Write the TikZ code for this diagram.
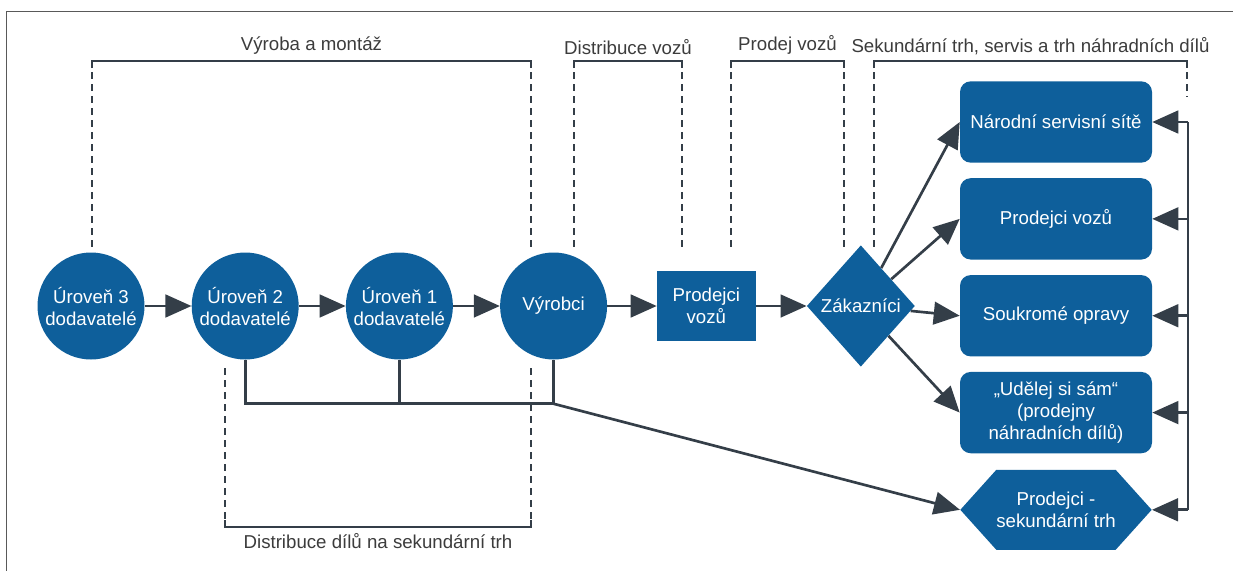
\documentclass[tikz,border=0pt]{standalone}
\usepackage{fontspec}
\setmainfont{Liberation Sans}
\usetikzlibrary{arrows.meta,positioning,shapes.geometric,shapes.symbols}

\definecolor{boxblue}{RGB}{14,95,155}
\definecolor{wire}{RGB}{52,62,72}
\definecolor{caption}{RGB}{60,60,60}

\begin{document}
\begin{tikzpicture}[
  x=0.75pt,y=-0.75pt,
  node distance=35pt and 35pt,
  every node/.style={font=\fontsize{14}{16.5}\selectfont},
  tier/.style={circle,fill=boxblue,text=white,minimum size=80.25pt,inner sep=0pt,align=center},
  dealer/.style={rectangle,fill=boxblue,text=white,minimum width=74pt,minimum height=52.5pt,align=center},
  buyer/.style={diamond,fill=boxblue,text=white,aspect=0.89,inner sep=1pt,minimum width=81pt,minimum height=91pt},
  outlet/.style={rectangle,rounded corners=8pt,fill=boxblue,text=white,minimum width=144pt,minimum height=61pt,align=center},
  partsshop/.style={signal,signal to=west and east,signal pointer angle=96,fill=boxblue,text=white,minimum width=142.5pt,minimum height=60pt,inner xsep=0pt,align=center},
  flow/.style={draw=wire,line width=2pt,-{Triangle[length=19.5pt,width=17pt]}},
  link/.style={draw=wire,line width=2pt},
  bracket/.style={draw=wire,line width=1.8pt},
  gap/.style={bracket,dash pattern=on 5.25pt off 3.75pt},
  phase/.style={text=caption,inner sep=0pt}
]
  \useasboundingbox (0,0) rectangle (1233,571);
  \draw[gray!70!black,line width=0.6pt] (1233,11) -- (6,11) -- (6,571);

  % supply chain
  \node[tier] (tier3) at (91,306) {Úroveň 3\\dodavatelé};
  \node[tier,right=of tier3] (tier2) {Úroveň 2\\dodavatelé};
  \node[tier,right=of tier2] (tier1) {Úroveň 1\\dodavatelé};
  \node[tier,right=of tier1] (oem) {Výrobci};
  \node[dealer,right=37pt of oem] (dealer) {Prodejci\\vozů};
  \node[buyer,right=38pt of dealer] (buyer) {Zákazníci};

  % aftermarket
  \node[outlet] (network) at (1056,122) {Národní servisní sítě};
  \node[outlet,below=11.25pt of network] (cardealer) {Prodejci vozů};
  \node[outlet,below=11.25pt of cardealer] (repair) {Soukromé opravy};
  \node[outlet,below=11.25pt of repair] (diy) {„Udělej si sám“\\(prodejny\\náhradních dílů)};
  \node[partsshop,below=12pt of diy] (aftermkt) {Prodejci -\\sekundární trh};

  \draw[flow] (tier3) -- (tier2);
  \draw[flow] (tier2) -- (tier1);
  \draw[flow] (tier1) -- (oem);
  \draw[flow] (oem) -- (dealer);
  \draw[flow] (dealer) -- (buyer);
  \draw[flow] (buyer) -- (network.west);
  \draw[flow] (buyer) -- (cardealer.west);
  \draw[flow] (buyer) -- (repair.west);
  \draw[flow] (buyer) -- (diy.west);

  % parts distribution
  \coordinate[below=33pt of oem.south] (bus);
  \draw[link] (tier2) |- (bus);
  \draw[link] (tier1) -- (tier1 |- bus);
  \draw[link] (oem) -- (bus);
  \draw[flow] (bus) -- (aftermkt.west);

  % feedback column
  \coordinate (loop) at (1188,122);
  \draw[link] (loop) -- (loop |- aftermkt.east);
  \draw[flow] (loop) -- (network.east);
  \draw[flow] (loop |- cardealer.east) -- (cardealer.east);
  \draw[flow] (loop |- repair.east) -- (repair.east);
  \draw[flow] (loop |- diy.east) -- (diy.east);
  \draw[flow] (loop |- aftermkt.east) -- (aftermkt.east);

  % phase brackets
  \draw[bracket] (92,68) -- (92,61) -- (531,61) node[phase,midway,above=4pt] (lblbuild) {Výroba a montáž} -- (531,68);
  \draw[gap] (92,72) -- (92,247);
  \draw[gap] (531,72) -- (531,247);
  \draw[bracket] (574,68) -- (574,61) -- (682,61) node[phase,midway,above=4pt] (lblship) {Distribuce vozů} -- (682,68);
  \draw[gap] (574,72) -- (574,247);
  \draw[gap] (682,72) -- (682,247);
  \draw[bracket] (731,68) -- (731,61) -- (844,61) node[phase,midway,above=4pt] (lblsell) {Prodej vozů} -- (844,68);
  \draw[gap] (731,72) -- (731,247);
  \draw[gap] (844,72) -- (844,247);
  \draw[bracket] (874,68) -- (874,61) -- (1187,61) node[phase,midway,above=4pt] (lblservice) {Sekundární trh, servis a trh náhradních dílů} -- (1187,68);
  \draw[gap] (874,72) -- (874,247);
  \draw[gap] (1187,72) -- (1187,97);
  \draw[gap] (225,368) -- (225,520);
  \draw[gap] (531,368) -- (531,520);
  \draw[bracket] (225,520) -- (225,527) -- (531,527) node[phase,midway,below=4pt] (lblparts) {Distribuce dílů na sekundární trh} -- (531,520);
\end{tikzpicture}
\end{document}
